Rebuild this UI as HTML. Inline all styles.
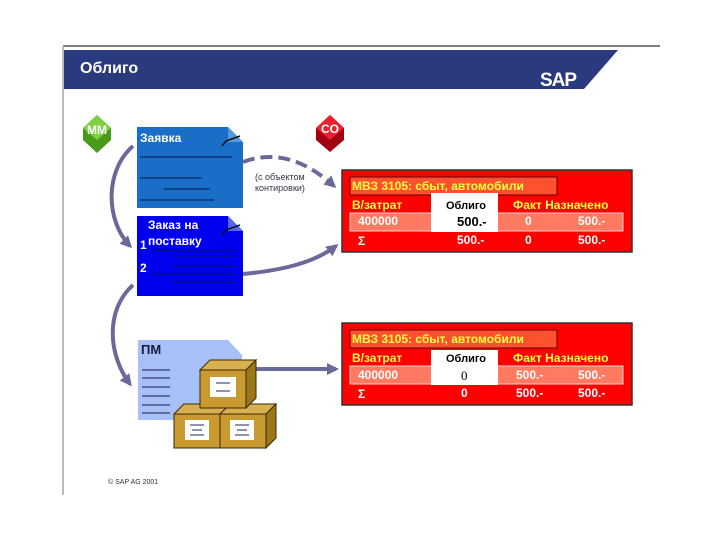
<!DOCTYPE html>
<html><head><meta charset="utf-8"><style>
body{margin:0;background:#fff;}
svg{display:block;font-family:"Liberation Sans",sans-serif;}
.y{fill:#ffff40;font-weight:bold;font-size:12px}
.w{fill:#fff;font-weight:bold;font-size:12px}
</style></head><body>
<svg width="720" height="540" viewBox="0 0 720 540">
<defs>
<marker id="ah" markerWidth="12" markerHeight="12" refX="9" refY="6" orient="auto" markerUnits="userSpaceOnUse"><path d="M0,0 L12,6 L0,12 z" fill="#6a6a9a"/></marker>
</defs>
<line x1="63" y1="46" x2="660" y2="46" stroke="#000" stroke-width="1"/>
<line x1="63" y1="46" x2="63" y2="495" stroke="#bbb" stroke-width="2"/>
<polygon points="64,50 618,50 584,89 64,89" fill="#2b3a7e"/>
<text x="80" y="73" fill="#fff" font-weight="bold" font-size="16">Облиго</text>
<text x="540" y="86" fill="#fff" font-weight="bold" font-size="19" letter-spacing="-1">SAP</text>

<polygon points="97,115 111,128 111,140 97,153 83,140 83,128" fill="#4a9a1a"/>
<polygon points="97,115 111,128 97,140 83,128" fill="#7ed040"/>
<text x="97" y="134" text-anchor="middle" class="w" font-size="11">MM</text>
<polygon points="330,115 344,128 344,140 330,152 316,140 316,128" fill="#a00010"/>
<polygon points="330,115 344,128 330,140 316,128" fill="#ee2030"/>
<text x="330" y="133" text-anchor="middle" class="w" font-size="11">CO</text>

<path d="M133,146 C105,170 105,220 130,246" fill="none" stroke="#6a6a9a" stroke-width="4" marker-end="url(#ah)"/>
<path d="M133,285 C105,310 108,355 130,384" fill="none" stroke="#6a6a9a" stroke-width="4" marker-end="url(#ah)"/>
<path d="M243,162 C275,150 305,160 334,186" fill="none" stroke="#6a6a9a" stroke-width="4" stroke-dasharray="12,6" marker-end="url(#ah)"/>
<path d="M243,274 C285,270 315,262 336,246" fill="none" stroke="#6a6a9a" stroke-width="4" marker-end="url(#ah)"/>
<path d="M255,369 L336,369" fill="none" stroke="#6a6a9a" stroke-width="4" marker-end="url(#ah)"/>
<text x="255" y="180" font-size="9" fill="#334">(с объектом</text>
<text x="255" y="191" font-size="9" fill="#334">контировки)</text>

<polygon points="137,127 228,127 243,142 243,208 137,208" fill="#1a6ec8"/>
<polygon points="228,127 243,142 228,142" fill="#5599dd"/>
<path d="M222,146 L226,141 L240,136" fill="none" stroke="#111" stroke-width="1.5"/>
<text x="140" y="142" class="w" font-size="13">Заявка</text>
<g stroke="#001a4a" stroke-width="1"><line x1="140" y1="157" x2="232" y2="157"/><line x1="140" y1="178" x2="202" y2="178"/><line x1="164" y1="189" x2="210" y2="189"/><line x1="140" y1="200" x2="214" y2="200"/></g>
<polygon points="137,216 228,216 243,231 243,296 137,296" fill="#0000ee"/>
<polygon points="228,216 243,231 228,231" fill="#5566ff"/>
<path d="M222,235 L226,230 L240,225" fill="none" stroke="#111" stroke-width="1.5"/>
<text x="148" y="229" class="w" font-size="13">Заказ на</text>
<text x="148" y="245" class="w" font-size="13">поставку</text>
<text x="140" y="249" class="w" font-size="9">1</text>
<text x="140" y="272" class="w" font-size="9">2</text>
<g stroke="#001a4a" stroke-width="1"><line x1="152" y1="250" x2="236" y2="250"/><line x1="173" y1="256" x2="236" y2="256"/><line x1="173" y1="266" x2="236" y2="266"/><line x1="152" y1="274" x2="236" y2="274"/><line x1="173" y1="282" x2="236" y2="282"/></g>
<polygon points="138,340 228,340 242,355 242,420 138,420" fill="#a8c0f8"/>
<text x="141" y="354" font-weight="bold" font-size="13" fill="#1a1a3a">ПМ</text>
<g stroke="#1a1a4a" stroke-width="1"><line x1="142" y1="370" x2="170" y2="370"/><line x1="142" y1="378" x2="170" y2="378"/><line x1="142" y1="387" x2="170" y2="387"/><line x1="142" y1="396" x2="170" y2="396"/><line x1="142" y1="405" x2="170" y2="405"/><line x1="142" y1="413" x2="170" y2="413"/></g>
<g stroke="#3a2a00" stroke-width="1">
<polygon points="174,414 184,404 230,404 220,414" fill="#d8b050"/>
<polygon points="220,414 230,404 276,404 266,414" fill="#d8b050"/>
<polygon points="266,414 276,404 276,438 266,448" fill="#9a7818"/>
<rect x="174" y="414" width="46" height="34" fill="#c89a30"/>
<rect x="220" y="414" width="46" height="34" fill="#c89a30"/>
<polygon points="200,370 210,360 256,360 246,370" fill="#d8b050"/>
<polygon points="246,370 256,360 256,398 246,408" fill="#9a7818"/>
<rect x="200" y="370" width="46" height="38" fill="#c89a30"/>
</g>
<g fill="#fff"><rect x="210" y="377" width="26" height="20"/><rect x="185" y="420" width="24" height="20"/><rect x="230" y="420" width="24" height="20"/></g>
<g stroke="#1a2a6a"><line x1="216" y1="383" x2="230" y2="383"/><line x1="216" y1="391" x2="230" y2="391"/><line x1="190" y1="425" x2="204" y2="425"/><line x1="192" y1="430" x2="202" y2="430"/><line x1="190" y1="435" x2="204" y2="435"/><line x1="235" y1="425" x2="249" y2="425"/><line x1="237" y1="430" x2="247" y2="430"/><line x1="235" y1="435" x2="249" y2="435"/></g>

<g>
<rect x="342" y="170" width="290" height="82" fill="#f00" stroke="#333" stroke-width="1.5"/>
<rect x="350" y="177" width="207" height="18" fill="#ff5030" stroke="#600" stroke-width="1"/>
<text x="352" y="190" class="y">МВЗ 3105: сбыт, автомобили</text>
<rect x="350" y="213" width="273" height="18" fill="#ff7a60" stroke="#fcc" stroke-width="1"/>
<rect x="431" y="193" width="67" height="39" fill="#fff"/>
<text x="352" y="209" class="y">В/затрат</text>
<text x="446" y="209" font-size="11" font-weight="bold" fill="#000">Облиго</text>
<text x="513" y="209" class="y">Факт Назначено</text>
<text x="358" y="225" class="w">400000</text>
<text x="457" y="226" font-size="13" fill="#000" font-weight="bold">500.-</text>
<text x="525" y="225" class="w">0</text>
<text x="578" y="225" class="w">500.-</text>
<text x="358" y="245" class="w" font-size="14">Σ</text>
<text x="457" y="244" class="w">500.-</text>
<text x="525" y="244" class="w">0</text>
<text x="578" y="244" class="w">500.-</text>
</g>
<g>
<rect x="342" y="323" width="290" height="82" fill="#f00" stroke="#333" stroke-width="1.5"/>
<rect x="350" y="330" width="207" height="18" fill="#ff5030" stroke="#600" stroke-width="1"/>
<text x="352" y="343" class="y">МВЗ 3105: сбыт, автомобили</text>
<rect x="350" y="366" width="273" height="18" fill="#ff7a60" stroke="#fcc" stroke-width="1"/>
<rect x="431" y="350" width="67" height="35" fill="#fff"/>
<text x="352" y="362" class="y">В/затрат</text>
<text x="446" y="362" font-size="11" font-weight="bold" fill="#000">Облиго</text>
<text x="513" y="362" class="y">Факт Назначено</text>
<text x="358" y="379" class="w">400000</text>
<text x="461" y="380" font-size="13" fill="#000" font-family="Liberation Serif">0</text>
<text x="516" y="379" class="w">500.-</text>
<text x="578" y="379" class="w">500.-</text>
<text x="358" y="398" class="w" font-size="14">Σ</text>
<text x="461" y="397" class="w">0</text>
<text x="516" y="397" class="w">500.-</text>
<text x="578" y="397" class="w">500.-</text>
</g>
<text x="108" y="484" font-size="7" fill="#333">© SAP AG 2001</text>
</svg>
</body></html>
